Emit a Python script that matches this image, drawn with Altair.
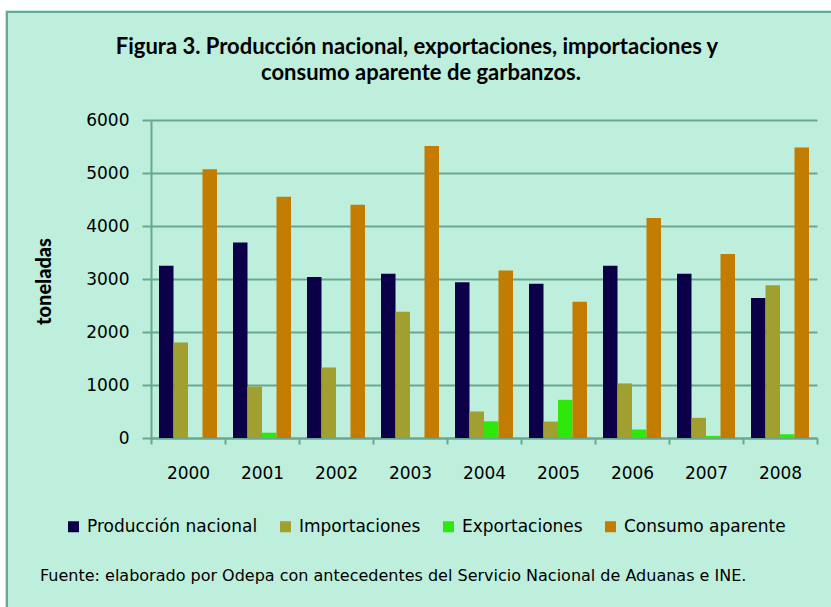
import altair as alt
import pandas as pd

years = ["2000", "2001", "2002", "2003", "2004", "2005", "2006", "2007", "2008"]
series = ["Producción nacional", "Importaciones", "Exportaciones", "Consumo aparente"]
produccion = [3250, 3690, 3040, 3100, 2940, 2910, 3250, 3100, 2640]
importaciones = [1800, 970, 1330, 2380, 500, 310, 1030, 380, 2880]
exportaciones = [0, 100, 0, 0, 315, 720, 160, 40, 70]
consumo = [5070, 4550, 4400, 5510, 3160, 2570, 4150, 3470, 5480]
y_ticks = [0, 1000, 2000, 3000, 4000, 5000, 6000]
colors = ["#0b0047", "#a19f2f", "#2de80a", "#c47c00"]

title_line1 = "Figura 3.  Producción nacional, exportaciones, importaciones y"
title_line2 = "consumo aparente de garbanzos."
footnote = "Fuente: elaborado por Odepa con antecedentes del Servicio Nacional de Aduanas e INE."

BG = "#bdefdc"
GRID = "#6aa792"
BORDER = "#6aa792"

rows = []
for i, yr in enumerate(years):
    for s, vals in zip(series, [produccion, importaciones, exportaciones, consumo]):
        rows.append({"year": yr, "serie": s, "valor": vals[i]})
df = pd.DataFrame(rows)

one = alt.Data(values=[{"k": 1}])

bars = alt.Chart(df).mark_bar().encode(
    x=alt.X("year:N", sort=years,
            scale=alt.Scale(paddingInner=0, paddingOuter=0),
            axis=alt.Axis(title=None, labelAngle=0, tickBand="extent",
                          labelFont="DejaVu Sans", labelFontSize=17, labelColor="#000000",
                          labelPadding=21, tickSize=6, tickWidth=2, tickColor=GRID,
                          domainColor=GRID, domainWidth=2, grid=False)),
    xOffset=alt.XOffset("serie:N", sort=series,
                        scale=alt.Scale(paddingInner=0, paddingOuter=0.552)),
    y=alt.Y("valor:Q", scale=alt.Scale(domain=[0, 6000], nice=False),
            axis=alt.Axis(values=y_ticks, title="toneladas", format="d",
                          labelFont="DejaVu Sans", labelFontSize=17, labelColor="#000000",
                          labelPadding=13, tickSize=9, tickWidth=2, tickColor=GRID,
                          domainColor=GRID, domainWidth=2,
                          grid=True, gridColor=GRID, gridWidth=2,
                          titleFont="Lato", titleFontSize=20, titleFontWeight=900,
                          titleColor="#000000", titleAngle=-90, titleX=-107, titleY=161,
                          titleAlign="center", titleBaseline="middle")),
    color=alt.Color("serie:N", sort=series,
                    scale=alt.Scale(domain=series, range=colors),
                    legend=alt.Legend(title=None, orient="none", direction="horizontal",
                                      legendX=-86, legendY=398, symbolType="square",
                                      symbolSize=121, symbolStrokeWidth=0,
                                      labelFont="DejaVu Sans", labelFontSize=17,
                                      labelColor="#000000", labelOffset=5, labelLimit=400,
                                      columnPadding=19, padding=0)),
)

white_top = alt.Chart(one).mark_rect(fill="#ffffff").encode(
    x=alt.value(-160), x2=alt.value(700), y=alt.value(-130), y2=alt.value(-110))
white_left = alt.Chart(one).mark_rect(fill="#ffffff").encode(
    x=alt.value(-160), x2=alt.value(-146), y=alt.value(-130), y2=alt.value(520))
border = alt.Chart(one).mark_rect(filled=False, stroke=BORDER, strokeWidth=2).encode(
    x=alt.value(-144), x2=alt.value(720), y=alt.value(-108), y2=alt.value(540))

title_style = dict(align="center", baseline="middle", font="Lato", fontSize=22,
                   fontWeight="bold", color="#000000")
t1 = alt.Chart(one).mark_text(**title_style).encode(
    x=alt.value(266), y=alt.value(-73), text=alt.value(title_line1))
t2 = alt.Chart(one).mark_text(**title_style).encode(
    x=alt.value(270), y=alt.value(-47), text=alt.value(title_line2))

foot = alt.Chart(one).mark_text(align="left", baseline="middle", font="DejaVu Sans",
                                fontSize=16, color="#000000").encode(
    x=alt.value(-111), y=alt.value(456), text=alt.value(footnote))

chart = alt.layer(bars, white_top, white_left, border, t1, t2, foot).properties(
    width=666, height=318,
    padding={"left": 151, "top": 120, "right": 14, "bottom": 169},
    autosize=alt.AutoSizeParams(type="none"),
).configure(background=BG).configure_view(stroke=None)

chart.save("out.html", embed_options={"renderer": "svg", "actions": False})
